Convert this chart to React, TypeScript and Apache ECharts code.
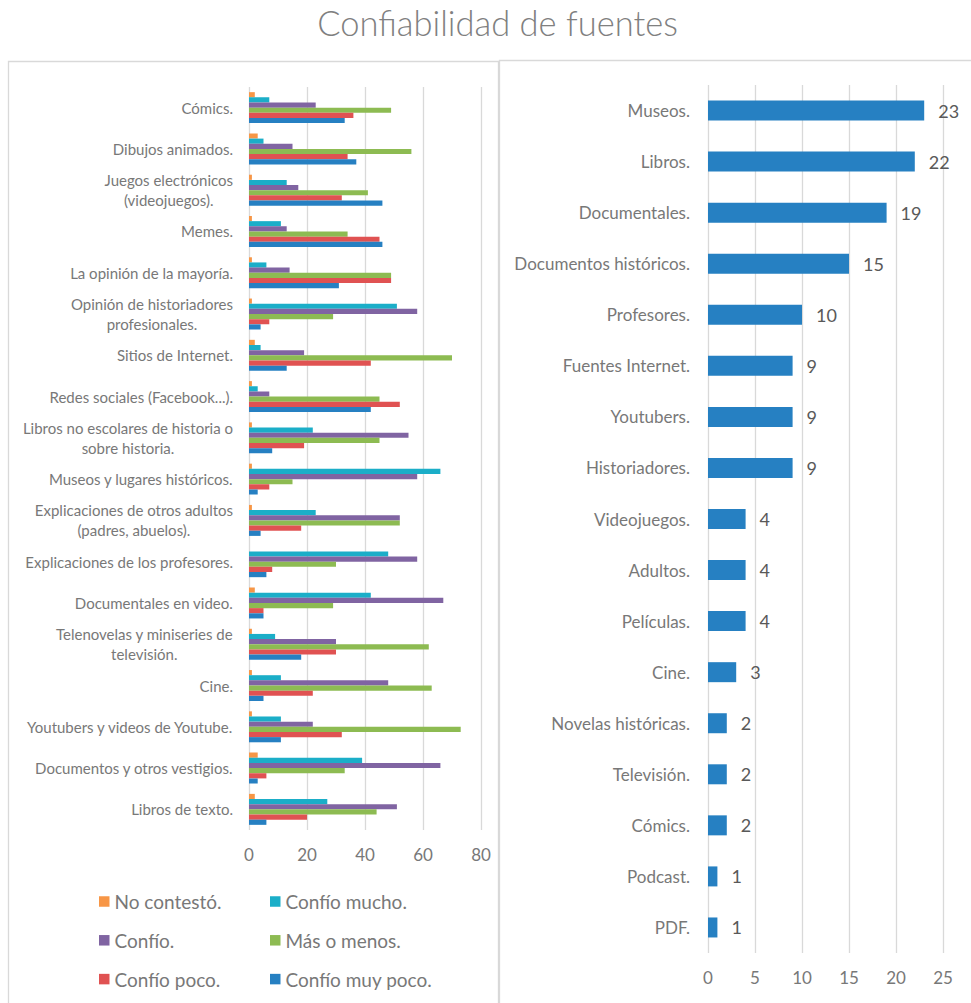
import React, { useEffect, useRef } from "react";
import * as echarts from "echarts";

const leftCategories = [
  "Cómics.",
  "Dibujos animados.",
  "Juegos electrónicos\n(videojuegos).",
  "Memes.",
  "La opinión de la mayoría.",
  "Opinión de historiadores\nprofesionales.",
  "Sitios de Internet.",
  "Redes sociales (Facebook...).",
  "Libros no escolares de historia o\nsobre historia.",
  "Museos y lugares históricos.",
  "Explicaciones de otros adultos\n(padres, abuelos).",
  "Explicaciones de los profesores.",
  "Documentales en video.",
  "Telenovelas y miniseries de\ntelevisión.",
  "Cine.",
  "Youtubers y videos de Youtube.",
  "Documentos y otros vestigios.",
  "Libros de texto.",
];

const seriesNames = [
  "No contestó.",
  "Confío mucho.",
  "Confío.",
  "Más o menos.",
  "Confío poco.",
  "Confío muy poco.",
];

const noContesto = [2, 3, 1, 1, 1, 1, 2, 1, 1, 1, 1, 0, 2, 1, 1, 1, 3, 2];
const confioMucho = [7, 5, 13, 11, 6, 51, 4, 3, 22, 66, 23, 48, 42, 9, 11, 11, 39, 27];
const confio = [23, 15, 17, 13, 14, 58, 19, 7, 55, 58, 52, 58, 67, 30, 48, 22, 66, 51];
const masOMenos = [49, 56, 41, 34, 49, 29, 70, 45, 45, 15, 52, 30, 29, 62, 63, 73, 33, 44];
const confioPoco = [36, 34, 32, 45, 49, 7, 42, 52, 19, 7, 18, 8, 5, 30, 22, 32, 6, 20];
const confioMuyPoco = [33, 37, 46, 46, 31, 4, 13, 42, 8, 3, 4, 6, 5, 18, 5, 11, 3, 6];

const leftTicks = [0, 20, 40, 60, 80];

const rightCategories = [
  "Museos.",
  "Libros.",
  "Documentales.",
  "Documentos históricos.",
  "Profesores.",
  "Fuentes Internet.",
  "Youtubers.",
  "Historiadores.",
  "Videojuegos.",
  "Adultos.",
  "Películas.",
  "Cine.",
  "Novelas históricas.",
  "Televisión.",
  "Cómics.",
  "Podcast.",
  "PDF.",
];
const rightValues = [23, 22, 19, 15, 10, 9, 9, 9, 4, 4, 4, 3, 2, 2, 2, 1, 1];
const rightTicks = [0, 5, 10, 15, 20, 25];

const seriesColors = ["#F79646", "#1BAEC8", "#8064A2", "#8DBB52", "#E05252", "#2680C2"];

const FONT = 'Lato, "Noto Sans", sans-serif';
const LABEL_GRAY = "#787878";
const GRID_GRAY = "#D9D9D9";

export default function App() {
  const ref = useRef<HTMLDivElement>(null);

  useEffect(() => {
    if (!ref.current) return;
    const chart = echarts.init(ref.current, undefined, { renderer: "svg" });

    const leftData = [noContesto, confioMucho, confio, masOMenos, confioPoco, confioMuyPoco];

    const option: any = {
      animation: false,
      backgroundColor: "#ffffff",
      title: {
        text: "Confiabilidad de fuentes",
        left: 497.5,
        top: 1,
        padding: 0,
        textAlign: "center",
        textStyle: {
          fontFamily: FONT,
          fontSize: 34.5,
          fontWeight: 300,
          color: "#808080",
          lineHeight: 42,
        },
      },
      graphic: [
        {
          type: "rect",
          z: -10,
          silent: true,
          shape: { x: 8.5, y: 61.5, width: 490, height: 960 },
          style: { fill: "#ffffff", stroke: GRID_GRAY, lineWidth: 1.3 },
        },
        {
          type: "rect",
          z: -9,
          silent: true,
          shape: { x: 499.5, y: 60.5, width: 480, height: 960 },
          style: { fill: "#ffffff", stroke: GRID_GRAY, lineWidth: 1.3 },
        },
      ],
      legend: [
        {
          orient: "vertical",
          left: 99,
          top: 891.5,
          padding: 0,
          itemWidth: 10.5,
          itemHeight: 10.5,
          itemGap: 18.8,
          icon: "rect",
          data: [seriesNames[0], seriesNames[2], seriesNames[4]],
          textStyle: { fontFamily: FONT, fontSize: 19, color: LABEL_GRAY, lineHeight: 20 },
        },
        {
          orient: "vertical",
          left: 270,
          top: 891.5,
          padding: 0,
          itemWidth: 10.5,
          itemHeight: 10.5,
          itemGap: 18.8,
          icon: "rect",
          data: [seriesNames[1], seriesNames[3], seriesNames[5]],
          textStyle: { fontFamily: FONT, fontSize: 19, color: LABEL_GRAY, lineHeight: 20 },
        },
      ],
      grid: [
        { left: 249, top: 87, width: 232, height: 743 },
        { left: 708, top: 85, width: 235, height: 868 },
      ],
      xAxis: [
        {
          type: "value",
          gridIndex: 0,
          min: leftTicks[0],
          max: leftTicks[leftTicks.length - 1],
          interval: 20,
          axisLine: { show: false },
          axisTick: { show: false },
          splitLine: { lineStyle: { color: GRID_GRAY, width: 1.3 } },
          axisLabel: { fontFamily: FONT, fontSize: 17, color: LABEL_GRAY, margin: 16 },
        },
        {
          type: "value",
          gridIndex: 1,
          min: rightTicks[0],
          max: rightTicks[rightTicks.length - 1],
          interval: 5,
          axisLine: { show: false },
          axisTick: { show: false },
          splitLine: { lineStyle: { color: GRID_GRAY, width: 1.3 } },
          axisLabel: { fontFamily: FONT, fontSize: 17, color: LABEL_GRAY, margin: 16 },
        },
      ],
      yAxis: [
        {
          type: "category",
          gridIndex: 0,
          inverse: true,
          data: leftCategories,
          axisLine: { show: false },
          axisTick: { show: false },
          axisLabel: {
            margin: 16,
            interval: 0,
            fontFamily: FONT,
            fontSize: 15,
            color: LABEL_GRAY,
            formatter: (v: string) =>
              v
                .split("\n")
                .map((l) => `{c|${l}}`)
                .join("\n"),
            rich: {
              c: {
                align: "center",
                fontFamily: FONT,
                fontSize: 15,
                color: LABEL_GRAY,
                lineHeight: 20,
              },
            },
          },
        },
        {
          type: "category",
          gridIndex: 1,
          inverse: true,
          data: rightCategories,
          axisLine: { show: false },
          axisTick: { show: false },
          axisLabel: {
            margin: 18,
            interval: 0,
            fontFamily: FONT,
            fontSize: 17,
            color: LABEL_GRAY,
          },
        },
      ],
      series: [
        ...seriesNames.map((name, i) => ({
          type: "bar",
          name,
          xAxisIndex: 0,
          yAxisIndex: 0,
          data: leftData[i],
          barGap: "0%",
          barCategoryGap: "25%",
          itemStyle: { color: seriesColors[i] },
        })),
        {
          type: "bar",
          name: "Fuentes",
          xAxisIndex: 1,
          yAxisIndex: 1,
          data: rightValues,
          barWidth: 20,
          itemStyle: { color: "#2680C2" },
          label: {
            show: true,
            position: "right",
            distance: 14,
            fontFamily: FONT,
            fontSize: 18,
            color: "#595959",
          },
        },
      ],
    };

    chart.setOption(option);
    return () => chart.dispose();
  }, []);

  return (
    <div
      ref={ref}
      style={{ position: "absolute", left: 0, top: 0, width: 971, height: 1003 }}
    />
  );
}
